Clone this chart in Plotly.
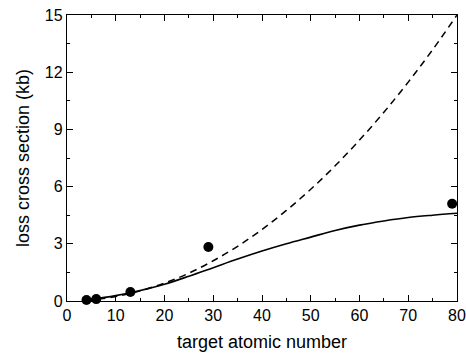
import plotly.graph_objects as go

# experimental points
z_pts = [4, 6, 13, 29, 79]
sig_pts = [0.05, 0.10, 0.47, 2.83, 5.10]

# curves
z_curve = [4, 5, 10, 15, 20, 25, 30, 35, 40, 45, 50, 55, 60, 65, 70, 75, 80]
sig_dashed = [0.04, 0.06, 0.23, 0.53, 0.94, 1.46, 2.11, 2.87, 3.75, 4.75, 5.86, 7.09, 8.44, 9.90, 11.48, 13.18, 15.0]
sig_solid = [0.05, 0.08, 0.28, 0.55, 0.88, 1.30, 1.75, 2.20, 2.62, 3.00, 3.35, 3.70, 3.98, 4.20, 4.38, 4.50, 4.60]

x_ticks = [0, 10, 20, 30, 40, 50, 60, 70, 80]
y_ticks = [0, 3, 6, 9, 12, 15]

FONT = "Liberation Sans, Arial"

fig = go.Figure()
fig.add_trace(go.Scatter(x=z_curve, y=sig_dashed, mode="lines",
                         line=dict(color="black", width=1.5, dash="7px,5px", shape="spline"),
                         showlegend=False))
fig.add_trace(go.Scatter(x=z_curve, y=sig_solid, mode="lines",
                         line=dict(color="black", width=1.6, shape="spline"),
                         showlegend=False))
fig.add_trace(go.Scatter(x=z_pts, y=sig_pts, mode="markers",
                         marker=dict(color="black", size=10),
                         showlegend=False, cliponaxis=False))

axis_common = dict(showgrid=False, zeroline=False, showline=True, linecolor="black",
                   linewidth=1.3, mirror="ticks", ticks="inside", ticklen=6, tickwidth=1.2,
                   tickcolor="black", automargin=False,
                   tickfont=dict(family=FONT, size=16, color="black"))

fig.update_xaxes(range=[0, 80], tickvals=x_ticks,
                 minor=dict(dtick=5, ticks="inside", ticklen=3, tickcolor="black", tickwidth=1.2),
                 title=dict(text="target atomic number", font=dict(family=FONT, size=18, color="black"), standoff=12),
                 **axis_common)
fig.update_yaxes(range=[0, 15], tickvals=y_ticks,
                 minor=dict(dtick=1.5, ticks="inside", ticklen=3, tickcolor="black", tickwidth=1.2),
                 title=dict(text="loss cross section (kb)", font=dict(family=FONT, size=18, color="black"), standoff=10),
                 **axis_common)

fig.update_layout(width=466, height=355, margin=dict(l=67, r=9, t=15, b=54),
                  paper_bgcolor="white", plot_bgcolor="white")

fig.write_html("out.html", config={"displayModeBar": False},
               post_script="document.body.style.margin='0';")
